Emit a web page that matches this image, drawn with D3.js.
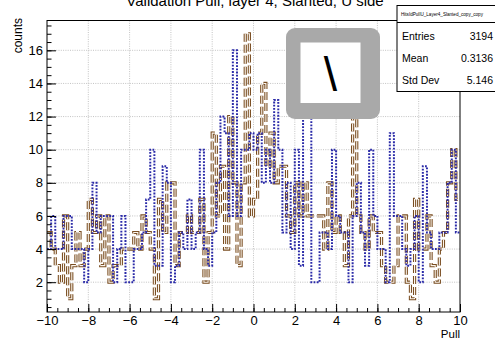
<!DOCTYPE html>
<html>
<head>
<meta charset="utf-8">
<script src="https://cdn.jsdelivr.net/npm/d3@7"></script>
<style>
  body{margin:0;background:#fff}
  svg{display:block;font-family:"Liberation Sans", Arial, sans-serif}
</style>
</head>
<body>
<svg id="chart" width="495" height="338"></svg>
<script>
// histogram binning: 100 bins from -10 to 10
const histLow = -10
const binWidth = 0.2

// brown dashed histogram (counts per bin)
const brownCounts = [
  5, 4, 3, 2, 6, 1, 3, 5, 3, 4,
  7, 5, 6, 3, 6, 2, 3, 3, 4, 4,
  4, 5, 4, 6, 5, 4, 1, 7, 5, 8,
  8, 3, 5, 5, 6, 5, 5, 7, 2, 5,
  11, 6, 9, 4, 12, 8, 3, 8, 17, 6,
  7, 11, 14, 9, 11, 8, 9, 9, 6, 5,
  8, 6, 8, 6, 6, 6, 6, 4, 8, 5,
  6, 5, 3, 6, 14, 6, 5, 4, 6, 5,
  5, 3, 2, 2, 3, 6, 6, 2, 1, 7,
  4, 4, 6, 3, 2, 4, 5, 8, 10, 7
]
// blue dotted histogram
const blueCounts = [
  4, 6, 4, 4, 6, 6, 4, 4, 4, 2,
  4, 8, 5, 6, 6, 6, 2, 4, 6, 2,
  2, 4, 4, 5, 7, 10, 3, 3, 9, 8,
  2, 3, 5, 4, 7, 4, 5, 10, 4, 3,
  5, 8, 12, 11, 6, 16, 6, 10, 10, 11,
  10, 11, 8, 10, 8, 13, 10, 5, 8, 4,
  10, 3, 12, 13, 2, 2, 5, 5, 4, 10,
  6, 5, 5, 2, 6, 8, 5, 3, 10, 6,
  4, 4, 2, 11, 6, 6, 4, 3, 4, 6,
  2, 9, 5, 4, 4, 5, 5, 8, 10, 5
]

const xTicks = [-10, -8, -6, -4, -2, 0, 2, 4, 6, 8, 10]
const yTicks = [2, 4, 6, 8, 10, 12, 14, 16]
const xDomain = [-10, 10]
const yDomain = [0.2, 17.8]

const titleText = "Validation Pull, layer 4, Slanted, U side"
const histName = "HitsIdPullU_Layer4_Slanted_copy_copy"
const statNames = ["Entries", "Mean", "Std Dev"]
const statValues = ["3194", "0.3136", "5.146"]

const frame = {left: 47, right: 460, top: 20.5, bottom: 312}
const svg = d3.select("#chart")

const x = d3.scaleLinear().domain(xDomain).range([frame.left, frame.right])
const y = d3.scaleLinear().domain(yDomain).range([frame.bottom, frame.top])

// grid
const grid = svg.append("g").attr("class", "grid")
grid.selectAll("line.gx").data(xTicks.slice(1, -1)).join("line")
  .attr("x1", d => x(d)).attr("x2", d => x(d))
  .attr("y1", frame.top).attr("y2", frame.bottom)
grid.selectAll("line.gy").data(yTicks).join("line")
  .attr("x1", frame.left).attr("x2", frame.right)
  .attr("y1", d => y(d)).attr("y2", d => y(d))
grid.selectAll("line")
  .attr("stroke", "#b4b4b4").attr("stroke-width", 0.8)
  .attr("stroke-dasharray", "1,1.3")

// step paths
function stepPoints(counts){
  const pts = counts.map((c, i) => [histLow + i*binWidth, c])
  pts.push([histLow + counts.length*binWidth, counts[counts.length-1]])
  return pts
}
const stepLine = d3.line()
  .x(d => x(d[0])).y(d => y(d[1]))
  .curve(d3.curveStepAfter)

// brown: thick dashed line with a light core, looks doubled like the reference
svg.append("path")
  .attr("d", stepLine(stepPoints(brownCounts)))
  .attr("fill", "none").attr("stroke", "#7a4e22")
  .attr("stroke-width", 3.2).attr("stroke-dasharray", "8,3")
svg.append("path")
  .attr("d", stepLine(stepPoints(brownCounts)))
  .attr("fill", "none").attr("stroke", "#fbf6ef")
  .attr("stroke-width", 1.1).attr("stroke-dasharray", "8,3")

svg.append("path")
  .attr("d", stepLine(stepPoints(blueCounts)))
  .attr("fill", "none").attr("stroke", "#2a2aa8")
  .attr("stroke-width", 2).attr("stroke-dasharray", "1.8,1.4")

// frame
svg.append("rect")
  .attr("x", frame.left).attr("y", frame.top)
  .attr("width", frame.right - frame.left).attr("height", frame.bottom - frame.top)
  .attr("fill", "none").attr("stroke", "#000").attr("stroke-width", 1)

// axes, ticks pointing inward like ROOT
svg.append("g")
  .attr("transform", `translate(0,${frame.bottom})`)
  .call(d3.axisBottom(x).tickValues(xTicks).tickSizeInner(-8).tickSizeOuter(0).tickPadding(4))
svg.append("g")
  .attr("transform", `translate(0,${frame.bottom})`)
  .call(d3.axisBottom(x).tickValues(d3.range(-10, 10.01, 0.5)).tickSizeInner(-4).tickSizeOuter(0).tickFormat(""))
svg.append("g")
  .attr("transform", `translate(${frame.left},0)`)
  .call(d3.axisLeft(y).tickValues(yTicks).tickSizeInner(-9).tickSizeOuter(0).tickPadding(4))
svg.append("g")
  .attr("transform", `translate(${frame.left},0)`)
  .call(d3.axisLeft(y).tickValues(d3.range(0.5, 17.6, 0.5)).tickSizeInner(-4.5).tickSizeOuter(0).tickFormat(""))

svg.selectAll(".domain").remove()
svg.selectAll(".tick line").attr("stroke", "#000").attr("stroke-width", 1)
svg.selectAll(".tick text")
  .attr("font-family", "Liberation Sans, Arial, sans-serif")
  .attr("font-size", 13).attr("fill", "#000")

// axis titles
svg.append("text")
  .attr("transform", "translate(22,18) rotate(-90)")
  .attr("text-anchor", "end")
  .attr("font-size", 12)
  .text("counts")
svg.append("text")
  .attr("x", frame.right).attr("y", 337.5)
  .attr("text-anchor", "end")
  .attr("font-size", 11.5)
  .text("Pull")

// title, partly above the top edge as in the reference
svg.append("text")
  .attr("x", 255).attr("y", 5.5)
  .attr("text-anchor", "middle")
  .attr("font-size", 15)
  .text(titleText)

// stats box
const stats = svg.append("g")
stats.append("rect")
  .attr("x", 397).attr("y", 5.5).attr("width", 120).attr("height", 86)
  .attr("fill", "#fff").attr("stroke", "#000").attr("stroke-width", 1)
stats.append("line")
  .attr("x1", 397).attr("x2", 517).attr("y1", 22.5).attr("y2", 22.5)
  .attr("stroke", "#000").attr("stroke-width", 1)
stats.append("text")
  .attr("x", 401).attr("y", 16)
  .attr("font-size", 4.6)
  .text(histName)
stats.selectAll("text.name").data(statNames).join("text")
  .attr("class", "name")
  .attr("x", 402).attr("y", (d, i) => 39.5 + i*22)
  .attr("font-size", 10.5)
  .text(d => d)
stats.selectAll("text.val").data(statValues).join("text")
  .attr("class", "val")
  .attr("x", 493).attr("y", (d, i) => 39.5 + i*22)
  .attr("text-anchor", "end")
  .attr("font-size", 10.5)
  .text(d => d)

// grey overlay icon
const icon = svg.append("g")
icon.append("rect")
  .attr("x", 286).attr("y", 28).attr("width", 94).attr("height", 91).attr("rx", 9)
  .attr("fill", "#a9a9a9")
icon.append("rect")
  .attr("x", 300.5).attr("y", 42.5).attr("width", 60).attr("height", 60.5)
  .attr("fill", "#fff")
icon.append("text")
  .attr("x", 330.5).attr("y", 91)
  .attr("text-anchor", "middle")
  .attr("font-size", 48)
  .text("\\")
</script>
</body>
</html>
